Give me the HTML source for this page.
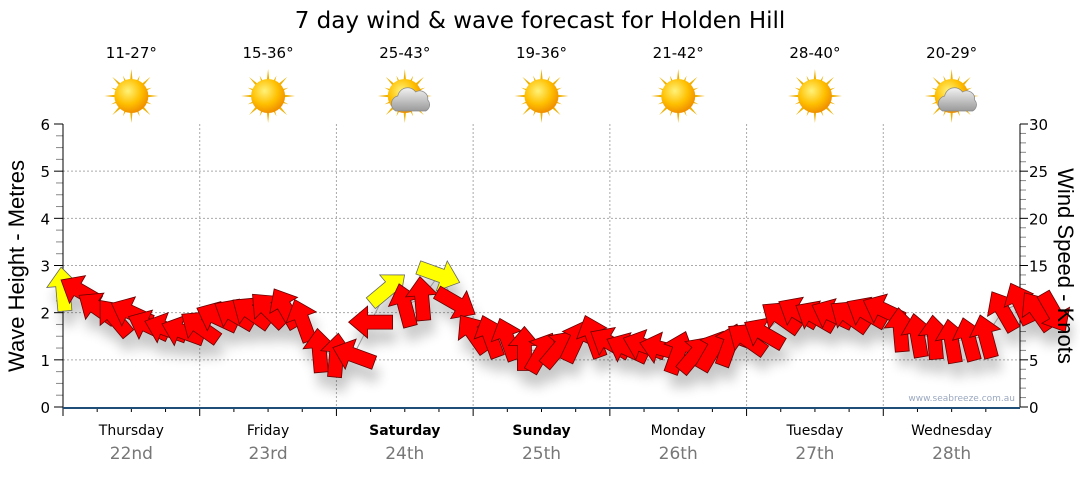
<!DOCTYPE html>
<html><head><meta charset="utf-8"><style>
body{margin:0;background:#fff;width:1080px;height:475px;overflow:hidden;font-family:"DejaVu Sans",Verdana,sans-serif}
svg text{font-family:"DejaVu Sans",Verdana,sans-serif}
svg text.at{font-family:"Liberation Sans",Arial,sans-serif}
</style></head><body>
<svg id="chart" width="1080" height="475" xmlns="http://www.w3.org/2000/svg">
<defs>
<radialGradient id="sunG" cx="40%" cy="35%" r="65%"><stop offset="0" stop-color="#fff27a"/><stop offset="0.6" stop-color="#ffc000"/><stop offset="1" stop-color="#f09000"/></radialGradient>
<linearGradient id="cloudG" x1="0" y1="0" x2="0" y2="1"><stop offset="0" stop-color="#f2f2f2"/><stop offset="1" stop-color="#9a9a9a"/></linearGradient>
<filter id="sh" x="-50%" y="-50%" width="200%" height="200%"><feGaussianBlur stdDeviation="6"/></filter>
</defs>
<text x="540" y="28" font-size="23" text-anchor="middle" fill="#000">7 day wind &amp; wave forecast for Holden Hill</text>
<g id="grid"></g>
<g id="axes"></g>
<g id="icons"></g>
<g id="shadows" filter="url(#sh)" opacity="0.22"></g>
<polyline id="link" fill="none" stroke="#999" stroke-width="1"></polyline>
<g id="arrows"></g>
<text x="1015" y="401" font-size="9" text-anchor="end" fill="#9aa8c0">www.seabreeze.com.au</text>
<text class="at" transform="translate(24,266) rotate(-90)" font-size="22" text-anchor="middle">Wave Height - Metres</text>
<text class="at" transform="translate(1058,266) rotate(90)" font-size="22" text-anchor="middle">Wind Speed - Knots</text>
</svg>
<script>
const days=["Thursday","Friday","Saturday","Sunday","Monday","Tuesday","Wednesday"];
const dates=["22nd","23rd","24th","25th","26th","27th","28th"];
const boldDays=[false,false,true,true,false,false,false];
const temps=["11-27°","15-36°","25-43°","19-36°","21-42°","28-40°","20-29°"];
const cloudy=[false,false,true,false,false,false,true];
const waveTicks=[0,1,2,3,4,5,6];
const windTicks=[0,5,10,15,20,25,30];
// wind speed (knots) every 3 hours from Thursday 00:00
const windSpeed=[12.5,12.3,10.5,9.5,10,8.6,8.3,8,8.5,9.5,9.8,10,10.3,10.5,9.2,6,5.5,5.5,9,12.5,10.8,11.5,14,11,7.8,7.5,7.2,6.2,5.8,6.2,7,7.5,6.8,6.2,6.5,6.2,5.8,5.6,6,6.6,7.2,7.8,9.5,10,9.6,9.8,9.6,10,10.3,8.2,7.6,7.4,7,7.2,7.5,10.2,11,10.2,10];
// direction arrow points toward (degrees clockwise from east)
const windDir=[265,210,215,230,205,205,200,200,215,205,210,215,225,240,250,265,275,200,180,320,255,265,20,30,235,250,250,270,300,310,295,250,210,205,200,195,290,310,300,290,215,210,215,210,210,205,215,210,205,265,260,265,260,255,255,240,245,235,60];
const strong=[1,0,0,0,0,0,0,0,0,0,0,0,0,0,0,0,0,0,0,1,0,0,1,0,0,0,0,0,0,0,0,0,0,0,0,0,0,0,0,0,0,0,0,0,0,0,0,0,0,0,0,0,0,0,0,0,0,0,0];

const X0=63,X1=1020,YB=407,YT=124,HOURS=168;
const xOf=h=>X0+(X1-X0)*h/HOURS;
const yWave=m=>YB-(YB-YT)*m/6;
const yWind=k=>YB-(YB-YT)*k/30;
const NS="http://www.w3.org/2000/svg";
function mk(tag,attrs,parent){const e=document.createElementNS(NS,tag);for(const k in attrs)e.setAttribute(k,attrs[k]);parent.appendChild(e);return e;}
const grid=document.getElementById('grid'),axes=document.getElementById('axes'),icons=document.getElementById('icons');
waveTicks.forEach(t=>{
  const y=yWave(t);
  if(t>0&&t<6){const l=mk('line',{x1:X0,x2:X1,y1:y,y2:y,stroke:'#aaa','stroke-dasharray':'2,2'},grid);
  
  }
  const tx=mk('text',{x:50,y:y+6,'font-size':15,'text-anchor':'end'},axes);tx.textContent=t;
  
  
});
windTicks.forEach(t=>{
  const tx=mk('text',{x:1029,y:yWind(t)+6,'font-size':15},axes);tx.textContent=t;
  
  
});
for(let i=0;i<=24;i++){const y=yWave(i/4);mk('line',{x1:i%4?56:54,x2:X0,y1:y,y2:y,stroke:i%4?'#888':'#000'},axes);}
for(let i=0;i<=30;i++){const y=yWind(i);mk('line',{x1:X1,x2:i%5?X1+6:X1+8,y1:y,y2:y,stroke:i%5?'#888':'#000'},axes);}
mk('line',{x1:X0,x2:X0,y1:YT,y2:YB,stroke:'#000'},axes);
mk('line',{x1:X1,x2:X1,y1:YT,y2:YB,stroke:'#000'},axes);
for(let d=0;d<7;d++){
  const xs=xOf(d*24),xm=xOf(d*24+12);
  if(d>0){const l=mk('line',{x1:xs,x2:xs,y1:YT,y2:YB,stroke:'#aaa','stroke-dasharray':'2,2'},grid);
  
  }
  for(let q=0;q<4;q++){const x=xOf(d*24+q*6);mk('line',{x1:x,x2:x,y1:YB,y2:YB+(q?5:9),stroke:'#000'},axes);}
  const dn=mk('text',{x:xm,y:435,'font-size':14,'text-anchor':'middle','font-weight':boldDays[d]?'bold':'normal'},axes);dn.textContent=days[d];
  
  
  const dt=mk('text',{x:xm,y:459,'font-size':17,'text-anchor':'middle',fill:'#777'},axes);dt.textContent=dates[d];
  
  
  const tp=mk('text',{x:xm,y:58,'font-size':15,'text-anchor':'middle'},icons);tp.textContent=temps[d];
  
  
  const g=mk('g',{transform:`translate(${xm},96)`},icons);
  
  
  for(let r=0;r<16;r++){const a=r*22.5,len=r%2?22:27;mk('polygon',{points:`-3,0 3,0 0,-${len}`,fill:'#f0b000',transform:`rotate(${a})`},g);}
  mk('circle',{r:17,fill:'url(#sunG)'},g);
  if(cloudy[d]){mk('path',{d:'M-9,15 a8,8 0 0 1 2,-15 a10,10 0 0 1 18,-4 a8,8 0 0 1 12,8 a7,7 0 0 1 -2,11 z',fill:'url(#cloudG)',stroke:'#888','stroke-width':0.7},g);}
}
mk('line',{x1:X0,x2:X1,y1:YB+1,y2:YB+1,stroke:'#1f4e79','stroke-width':2},axes);
const arrows=document.getElementById('arrows'),shadows=document.getElementById('shadows');
const shape="-22,-7 3,-7 3,-16 22,0 3,16 3,7 -22,7";
const pts=[];
windSpeed.forEach((k,i)=>{
  const x=xOf(i*3),y=yWind(k);pts.push(x+','+y);
  mk('polygon',{points:shape,fill:'#000',transform:`translate(${x+4},${y+14}) rotate(${windDir[i]})`},shadows);
});
document.getElementById('link').setAttribute('points',pts.join(' '));
windSpeed.forEach((k,i)=>{
  const x=xOf(i*3),y=yWind(k);
  const p=mk('polygon',{points:shape,fill:strong[i]?'#ffff00':'#ff0000',stroke:strong[i]?'#666':'#600','stroke-width':0.8,transform:`translate(${x},${y}) rotate(${windDir[i]})`},arrows);
  
  
});
</script>
</body></html>
